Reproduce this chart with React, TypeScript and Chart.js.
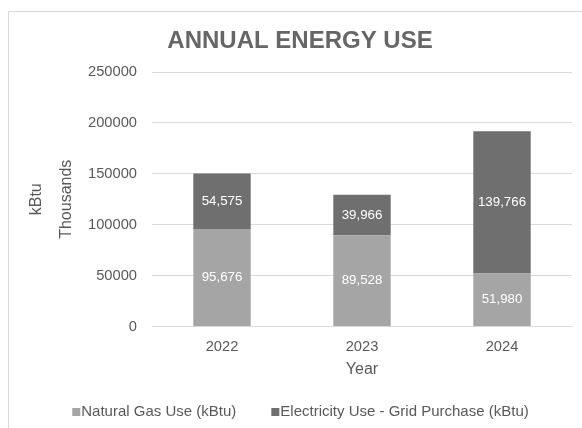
import React, { useEffect, useRef } from "react";
import { Chart, registerables } from "chart.js";

Chart.register(...registerables);

const categories = ["2022", "2023", "2024"];
const naturalGas = [95676, 89528, 51980];
const electricity = [54575, 39966, 139766];
const seriesNames = ["Natural Gas Use (kBtu)", "Electricity Use - Grid Purchase (kBtu)"];
const seriesColors = ["#a5a5a5", "#6f6f6f"];
const yTicks = [0, 50000, 100000, 150000, 200000, 250000];
const chartTitle = "ANNUAL ENERGY USE";
const xTitle = "Year";
const yTitle = ["kBtu", "Thousands"];

const FONT = "'Liberation Sans', Arial, sans-serif";
const TEXT = "#595959";

const barLabels = {
  id: "barLabels",
  afterDatasetsDraw(chart: any) {
    const ctx = chart.ctx;
    ctx.save();
    ctx.font = `13.3px ${FONT}`;
    ctx.fillStyle = "#ffffff";
    ctx.textAlign = "center";
    ctx.textBaseline = "middle";
    chart.data.datasets.forEach((ds: any, i: number) => {
      const meta = chart.getDatasetMeta(i);
      meta.data.forEach((bar: any, j: number) => {
        const v = ds.data[j];
        const p = bar.getProps(["x", "y", "base"], true);
        ctx.fillText(Number(v).toLocaleString("en-US"), p.x, (p.y + p.base) / 2);
      });
    });
    ctx.restore();
  },
};

// Legend drawn with Excel-like spacing (small square, tight gap to text)
const excelLegend = {
  id: "excelLegend",
  afterDraw(chart: any) {
    const ctx = chart.ctx;
    const box = 8;
    const gapText = 9;
    const gapItem = 35;
    const cx = 291.5;
    const cy = chart.height - 16;
    ctx.save();
    ctx.font = `15px ${FONT}`;
    ctx.textBaseline = "middle";
    ctx.textAlign = "left";
    const ds = chart.data.datasets;
    const widths = ds.map((d: any) => ctx.measureText(d.label).width);
    let total = 0;
    widths.forEach((w: number, i: number) => {
      total += gapText + w + (i < widths.length - 1 ? gapItem : 0);
    });
    let x = cx - total / 2;
    ds.forEach((d: any, i: number) => {
      ctx.fillStyle = d.backgroundColor;
      ctx.fillRect(x, cy - box / 2, box, box);
      ctx.fillStyle = TEXT;
      ctx.fillText(d.label, x + gapText, cy);
      x += gapText + widths[i] + gapItem;
    });
    ctx.restore();
  },
};

export default function App() {
  const ref = useRef<HTMLCanvasElement | null>(null);

  useEffect(() => {
    if (!ref.current) return;
    const chart = new Chart(ref.current, {
      type: "bar",
      data: {
        labels: categories,
        datasets: [
          {
            label: seriesNames[0],
            data: naturalGas,
            backgroundColor: seriesColors[0],
            borderWidth: 0,
            categoryPercentage: 1,
            barPercentage: 0.41,
          },
          {
            label: seriesNames[1],
            data: electricity,
            backgroundColor: seriesColors[1],
            borderWidth: 0,
            categoryPercentage: 1,
            barPercentage: 0.41,
          },
        ],
      },
      options: {
        responsive: false,
        animation: false,
        layout: { padding: { left: 19, right: 10, top: 0, bottom: 40 } },
        plugins: {
          title: {
            display: true,
            text: chartTitle,
            color: "#666666",
            font: { family: FONT, size: 24, weight: "bold" },
            padding: { top: 15, bottom: 16.2 },
          },
          legend: { display: false },
          tooltip: { enabled: false },
        },
        scales: {
          x: {
            stacked: true,
            afterFit: (scale: any) => {
              scale.height = 61.5;
            },
            grid: { display: false, drawTicks: false },
            border: { display: true, color: "#d9d9d9" },
            ticks: { color: TEXT, font: { family: FONT, size: 14.7 }, padding: 11.5 },
            title: {
              display: true,
              text: xTitle,
              color: TEXT,
              font: { family: FONT, size: 16 },
              padding: { top: 0, bottom: 8.4 },
            },
          },
          y: {
            stacked: true,
            min: yTicks[0],
            max: yTicks[yTicks.length - 1],
            afterFit: (scale: any) => {
              scale.width = 124;
            },
            grid: { color: "#d9d9d9", drawTicks: false },
            border: { display: false },
            ticks: {
              stepSize: yTicks[1] - yTicks[0],
              color: TEXT,
              font: { family: FONT, size: 14.7 },
              padding: 15,
              callback: (v: any) => String(v),
            },
            title: {
              display: true,
              text: yTitle,
              color: TEXT,
              font: { family: FONT, size: 16, lineHeight: 1.875 },
              padding: { top: -6, bottom: 0 },
            },
          },
        },
      },
      plugins: [barLabels, excelLegend],
    } as any);
    return () => chart.destroy();
  }, []);

  return (
    <div
      style={{
        position: "absolute",
        left: 8,
        top: 11,
        width: 573,
        height: 416,
        borderLeft: "1px solid #d9d9d9",
        borderTop: "1px solid #d9d9d9",
        overflow: "hidden",
        background: "#fff",
      }}
    >
      <canvas ref={ref} width={573} height={416} style={{ display: "block" }} />
    </div>
  );
}
